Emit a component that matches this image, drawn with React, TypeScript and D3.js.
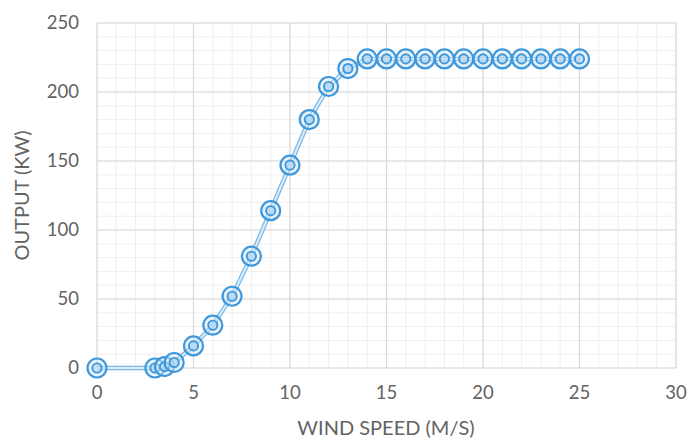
import React from "react";
import * as d3 from "d3";

const windSpeed = [0, 3, 3.5, 4, 5, 6, 7, 8, 9, 10, 11, 12, 13, 14, 15, 16, 17, 18, 19, 20, 21, 22, 23, 24, 25];
const outputKw = [0, 0, 1, 4, 16, 31, 52, 81, 114, 147, 180, 204, 217, 224, 224, 224, 224, 224, 224, 224, 224, 224, 224, 224, 224];
const xTicks = [0, 5, 10, 15, 20, 25, 30];
const yTicks = [0, 50, 100, 150, 200, 250];

const W = 689, H = 441;
const left = 97, right = 676, top = 23, bottom = 368;

export default function App() {
  const x = d3.scaleLinear().domain([0, 30]).range([left, right]);
  const y = d3.scaleLinear().domain([0, 250]).range([bottom, top]);
  const minorX = d3.range(0, 31, 1);
  const minorY = d3.range(0, 251, 10);
  const pts = windSpeed.map((v, i) => [v, outputKw[i]] as [number, number]);
  const line = d3.line<[number, number]>().x(d => x(d[0])).y(d => y(d[1]));
  const path = line(pts) || "";
  const font = "Lato, 'Open Sans', sans-serif";
  return (
    <svg width={W} height={H} style={{ position: "absolute", left: 0, top: 0, background: "#fff" }}>
      <g>
        {minorX.map(v => (
          <line key={"mx" + v} x1={x(v)} x2={x(v)} y1={top} y2={bottom} stroke="#efefef" strokeWidth={1} />
        ))}
        {minorY.map(v => (
          <line key={"my" + v} x1={left} x2={right} y1={y(v)} y2={y(v)} stroke="#efefef" strokeWidth={1} />
        ))}
        {xTicks.map(v => (
          <line key={"gx" + v} x1={x(v)} x2={x(v)} y1={top} y2={bottom} stroke="#d9d9d9" strokeWidth={1.2} />
        ))}
        {yTicks.map(v => (
          <line key={"gy" + v} x1={left} x2={right} y1={y(v)} y2={y(v)} stroke="#d9d9d9" strokeWidth={1.2} />
        ))}
      </g>
      <path d={path} fill="none" stroke="#7ab8e8" strokeWidth={4.5} />
      <path d={path} fill="none" stroke="#ddeefa" strokeWidth={2} />
      {pts.map((p, i) => (
        <g key={"p" + i} transform={`translate(${x(p[0])},${y(p[1])})`}>
          <circle r={9.5} fill="rgba(210,232,248,0.5)" stroke="#3d97da" strokeWidth={2.2} />
          <circle r={4.6} fill="rgba(180,215,242,0.6)" stroke="#3d97da" strokeWidth={1.9} />
        </g>
      ))}
      {yTicks.map(v => (
        <text key={"ty" + v} x={79} y={y(v)} dy="0.35em" textAnchor="end" fontFamily={font} fontSize={18.5} fill="#636363">
          {v}
        </text>
      ))}
      {xTicks.map(v => (
        <text key={"tx" + v} x={x(v)} y={393} dy="0.35em" textAnchor="middle" fontFamily={font} fontSize={18.5} fill="#636363">
          {v}
        </text>
      ))}
      <text x={386} y={428} dy="0.35em" textAnchor="middle" fontFamily={font} fontSize={20} fill="#636363">
        WIND SPEED (M/S)
      </text>
      <text transform={`translate(22,${(top + bottom) / 2}) rotate(-90)`} dy="0.35em" textAnchor="middle" fontFamily={font} fontSize={20} fill="#636363">
        OUTPUT (KW)
      </text>
    </svg>
  );
}
